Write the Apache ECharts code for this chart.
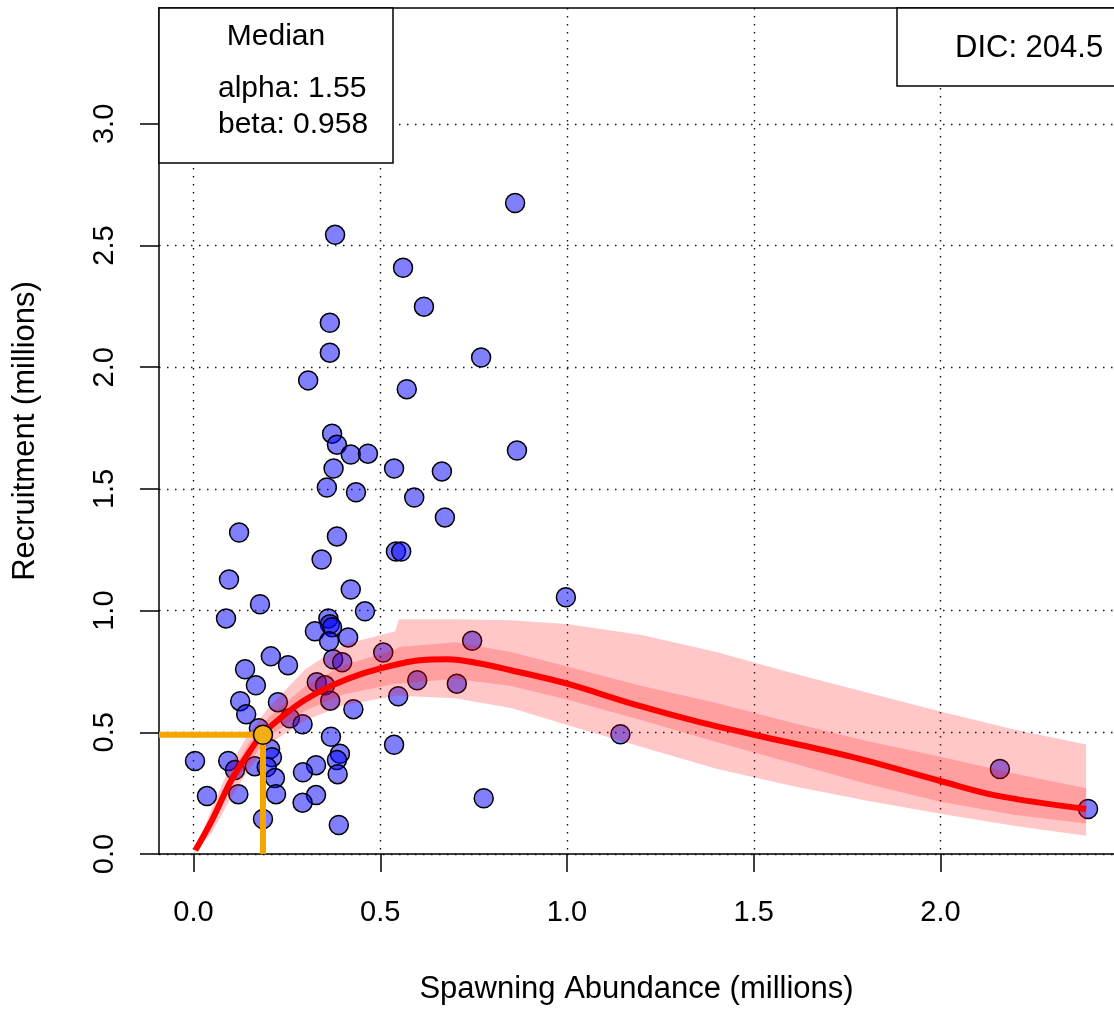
<!DOCTYPE html>
<html>
<head>
<meta charset="utf-8">
<script src="https://cdn.jsdelivr.net/npm/echarts@6/dist/echarts.min.js"></script>
<style>
html,body{margin:0;padding:0;background:#fff;}
#chart{width:1114px;height:1010px;}
</style>
</head>
<body>
<div id="chart"></div>
<script>
// ---- data ----
var spawning = [0.861,0.379,0.561,0.617,0.365,0.365,0.770,0.307,0.571,0.371,
  0.384,0.421,0.467,0.866,0.375,0.537,0.665,0.357,0.435,0.591,
  0.673,0.122,0.384,0.542,0.556,0.343,0.095,0.421,0.178,0.997,
  0.087,0.459,0.361,0.365,0.371,0.325,0.363,0.414,0.746,0.508,
  0.207,0.253,0.374,0.398,0.138,0.599,0.705,0.167,0.330,0.352,
  0.125,0.226,0.141,0.366,0.428,0.548,0.258,0.292,0.175,0.368,
  0.537,0.205,0.210,0.004,0.093,0.111,0.164,0.196,0.392,0.384,
  0.328,0.293,0.386,0.218,0.036,0.120,0.221,0.328,0.292,0.186,
  0.389,0.777,1.143,2.159,2.395];
var recruitment = [2.675,2.544,2.409,2.249,2.183,2.060,2.040,1.946,1.910,1.727,
  1.682,1.641,1.645,1.658,1.584,1.584,1.572,1.506,1.486,1.465,
  1.383,1.321,1.305,1.243,1.243,1.210,1.128,1.087,1.026,1.055,
  0.968,0.997,0.968,0.944,0.932,0.915,0.874,0.890,0.876,0.828,
  0.812,0.776,0.800,0.788,0.759,0.714,0.700,0.693,0.706,0.693,
  0.628,0.624,0.574,0.630,0.595,0.648,0.558,0.533,0.517,0.482,
  0.449,0.431,0.398,0.382,0.382,0.345,0.361,0.357,0.412,0.386,
  0.365,0.336,0.328,0.312,0.238,0.246,0.246,0.242,0.211,0.144,
  0.119,0.229,0.492,0.349,0.185];

var curveX = [0.005,0.05,0.10,0.15,0.186,0.25,0.30,0.375,0.45,0.52,0.60,0.68,0.76,0.85,1.00,1.18,1.36,1.50,1.76,2.00,2.15,2.39];
var curveY = [0.015,0.14,0.30,0.42,0.495,0.58,0.635,0.695,0.74,0.77,0.795,0.80,0.785,0.755,0.70,0.615,0.54,0.49,0.40,0.30,0.24,0.185];

var bandX      = [0.00,0.05,0.10,0.15,0.20,0.30,0.40,0.54,0.55,0.70,0.85,1.00,1.20,1.40,1.60,1.80,2.00,2.20,2.39];
var outerUpper = [0.00,0.19,0.37,0.50,0.60,0.76,0.86,0.915,0.965,0.965,0.96,0.945,0.90,0.83,0.745,0.665,0.585,0.51,0.45];
var outerLower = [0.00,0.09,0.23,0.35,0.45,0.55,0.61,0.65,0.65,0.64,0.60,0.53,0.44,0.35,0.28,0.22,0.165,0.115,0.075];
var innerUpper = [0.00,0.16,0.33,0.46,0.56,0.69,0.775,0.84,0.85,0.87,0.83,0.77,0.69,0.62,0.54,0.465,0.40,0.33,0.27];
var innerLower = [0.00,0.12,0.27,0.38,0.48,0.59,0.655,0.70,0.70,0.72,0.69,0.635,0.55,0.46,0.375,0.29,0.215,0.16,0.125];

var refSpawning = 0.186;
var refRecruit = 0.49;

var xTicks = [0.0,0.5,1.0,1.5,2.0];
var yTicks = [0.0,0.5,1.0,1.5,2.0,2.5,3.0];
var xMin = -0.0924, xMax = 2.4645, yMin = 0, yMax = 3.476;

var legendTitle = 'Median';
var legendLines = ['alpha: 1.55', 'beta: 0.958'];
var dicText = 'DIC: 204.5';

// ---- chart ----
var FONT = '"Liberation Sans", Arial, sans-serif';
var chart = echarts.init(document.getElementById('chart'), null, {renderer:'canvas'});

function pairs(xs, ys){ return xs.map(function(x,i){ return [x, ys[i]]; }); }

function bandSeries(lower, upper, color, z){
  return {
    type:'custom', coordinateSystem:'cartesian2d', silent:true, z:z,
    data:[[bandX[0], lower[0]]],
    renderItem:function(params, api){
      var pts = [];
      for (var i=0;i<bandX.length;i++) pts.push(api.coord([bandX[i], upper[i]]));
      for (var j=bandX.length-1;j>=0;j--) pts.push(api.coord([bandX[j], lower[j]]));
      return {type:'polygon', shape:{points:pts}, style:{fill:color}};
    }
  };
}

var fmt = function(v){ return v.toFixed(1); };

var option = {
  backgroundColor:'#ffffff',
  animation:false,
  grid:{left:159, right:0, top:8, bottom:154, containLabel:false},
  xAxis:[{
    type:'value', min:xMin, max:xMax, position:'bottom',
    name:'Spawning Abundance (millions)', nameLocation:'middle', nameGap:120,
    nameTextStyle:{fontFamily:FONT, fontSize:31, color:'#000'},
    axisLine:{show:true, onZero:false, lineStyle:{color:'#000', width:1.5}},
    axisTick:{show:true, length:18, customValues:xTicks, lineStyle:{color:'#000', width:1.5}},
    axisLabel:{show:true, customValues:xTicks, margin:44, formatter:fmt, fontFamily:FONT, fontSize:29, color:'#000'},
    splitLine:{show:true, lineStyle:{color:'#111', width:1.4, type:[1.5,6.5]}}
  },{
    type:'value', min:xMin, max:xMax, position:'top',
    axisLine:{show:true, onZero:false, lineStyle:{color:'#000', width:1.5}},
    axisTick:{show:false}, axisLabel:{show:false}, splitLine:{show:false}
  }],
  yAxis:{
    type:'value', min:yMin, max:yMax,
    name:'Recruitment (millions)', nameLocation:'middle', nameGap:118, nameRotate:90,
    nameTextStyle:{fontFamily:FONT, fontSize:31, color:'#000'},
    axisLine:{show:true, onZero:false, lineStyle:{color:'#000', width:1.5}},
    axisTick:{show:true, length:19, customValues:yTicks, lineStyle:{color:'#000', width:1.5}},
    axisLabel:{show:true, customValues:yTicks, rotate:90, margin:40, formatter:fmt, fontFamily:FONT, fontSize:29, color:'#000'},
    splitLine:{show:true, lineStyle:{color:'#111', width:1.4, type:[1.5,6.5]}}
  },
  series:[
    {
      type:'scatter', name:'observed', z:2,
      data:pairs(spawning, recruitment),
      symbol:'circle', symbolSize:19,
      itemStyle:{color:'rgba(0,0,255,0.5)', borderColor:'#000', borderWidth:1.5, opacity:1},
      silent:true
    },
    bandSeries(outerLower, outerUpper, 'rgba(255,0,0,0.22)', 3),
    bandSeries(innerLower, innerUpper, 'rgba(255,0,0,0.2)', 4),
    {
      type:'line', name:'median', z:5, data:pairs(curveX, curveY),
      smooth:0.35, showSymbol:false, symbol:'none', silent:true,
      lineStyle:{color:'#ff0000', width:6}
    },
    {
      type:'line', z:6, showSymbol:false, symbol:'none', silent:true,
      data:[[xMin, refRecruit],[refSpawning, refRecruit]],
      lineStyle:{color:'#F5A500', width:6}
    },
    {
      type:'line', z:6, showSymbol:false, symbol:'none', silent:true,
      data:[[refSpawning, refRecruit],[refSpawning, yMin]],
      lineStyle:{color:'#F5A500', width:6}
    },
    {
      type:'scatter', z:7, silent:true,
      data:[[refSpawning, refRecruit]], symbolSize:19,
      itemStyle:{color:'#F2AE14', borderColor:'#000', borderWidth:1.5, opacity:1}
    }
  ],
  graphic:[
    {type:'rect', z:100, shape:{x:159, y:8, width:234, height:155}, style:{fill:'#fff', stroke:'#000', lineWidth:1.5}},
    {type:'text', z:101, x:276, y:37, style:{text:legendTitle, font:'30px '+FONT, fill:'#000', align:'center', verticalAlign:'middle'}},
    {type:'text', z:101, x:218, y:89, style:{text:legendLines[0], font:'30px '+FONT, fill:'#000', align:'left', verticalAlign:'middle'}},
    {type:'text', z:101, x:218, y:125, style:{text:legendLines[1], font:'30px '+FONT, fill:'#000', align:'left', verticalAlign:'middle'}},
    {type:'rect', z:100, shape:{x:897, y:8, width:260, height:78}, style:{fill:'#fff', stroke:'#000', lineWidth:1.5}},
    {type:'text', z:101, x:955, y:48, style:{text:dicText, font:'31px '+FONT, fill:'#000', align:'left', verticalAlign:'middle'}}
  ]
};
chart.setOption(option);
</script>
</body>
</html>
